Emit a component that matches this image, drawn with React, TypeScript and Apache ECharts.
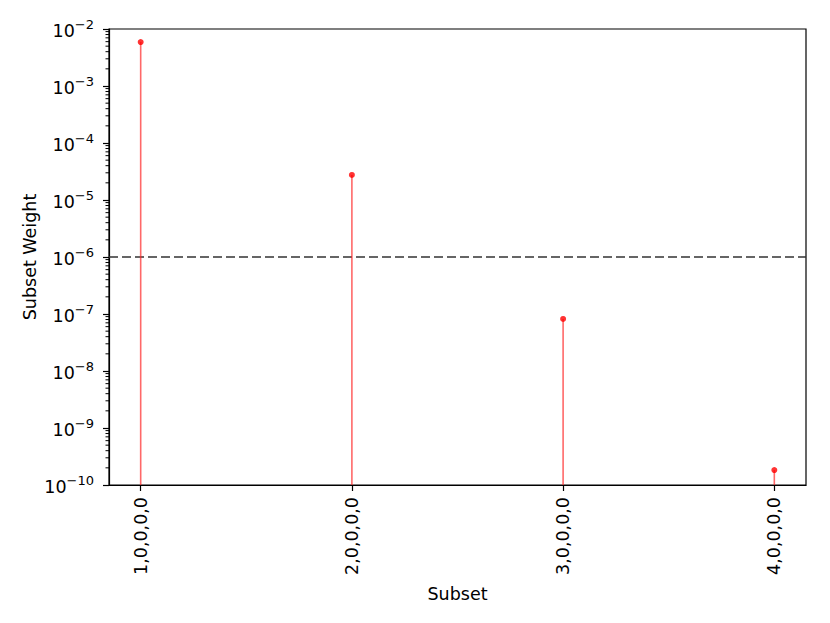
import React, { useEffect, useRef } from "react";
import * as echarts from "echarts";

const categories = ["1,0,0,0,0", "2,0,0,0,0", "3,0,0,0,0", "4,0,0,0,0"];
const weights = [5.9e-3, 2.75e-5, 8.2e-8, 1.83e-10];
const yMajorTicks = [1e-10, 1e-9, 1e-8, 1e-7, 1e-6, 1e-5, 1e-4, 1e-3, 1e-2];
const threshold = 1e-6;
const X_MIN = 0.85;
const X_MAX = 4.15;

const yMinorTicks: number[] = [];
for (let e = -10; e < -2; e++) {
  for (let k = 2; k <= 9; k++) yMinorTicks.push(k * Math.pow(10, e));
}

const FONT = "DejaVu Sans";

export default function App() {
  const ref = useRef<HTMLDivElement>(null);
  useEffect(() => {
    const chart = echarts.init(ref.current!, null, { renderer: "svg" });
    const xPos = categories.map((_, i) => i + 1);
    chart.setOption({
      animation: false,
      backgroundColor: "#ffffff",
      grid: {
        left: 109,
        right: 24,
        top: 29,
        bottom: 138,
        show: true,
        borderColor: "#000",
        borderWidth: 1.2,
        backgroundColor: "transparent",
      },
      xAxis: {
        type: "value",
        min: X_MIN,
        max: X_MAX,
        name: "Subset",
        nameLocation: "middle",
        nameGap: 100,
        nameMoveOverlap: false,
        nameTextStyle: { fontFamily: FONT, fontSize: 17.5, color: "#000" },
        axisLine: { show: true, lineStyle: { color: "#000", width: 1.2 } },
        axisTick: {
          show: true,
          length: 6,
          inside: false,
          lineStyle: { color: "#000", width: 1.2 },
          customValues: xPos,
        },
        axisLabel: {
          show: true,
          rotate: 90,
          margin: 12,
          fontFamily: FONT,
          fontSize: 17.5,
          color: "#000",
          customValues: xPos,
          formatter: (v: number) => categories[Math.round(v) - 1] ?? "",
        },
        splitLine: { show: false },
      },
      yAxis: {
        type: "log",
        logBase: 10,
        min: 1e-10,
        max: 1e-2,
        name: "Subset Weight",
        nameLocation: "middle",
        nameGap: 70,
        nameMoveOverlap: false,
        nameTextStyle: { fontFamily: FONT, fontSize: 17.5, color: "#000" },
        axisLine: { show: true, lineStyle: { color: "#000", width: 1.2 } },
        axisTick: {
          show: true,
          length: 6,
          lineStyle: { color: "#000", width: 1.2 },
          customValues: yMajorTicks,
        },
        axisLabel: {
          show: true,
          margin: 15,
          color: "#000",
          customValues: yMajorTicks,
          formatter: (v: number) => `{b|10}{s|−${Math.abs(Math.round(Math.log10(v)))}}`,
          rich: {
            b: { fontFamily: FONT, fontSize: 17.5, color: "#000", lineHeight: 22, verticalAlign: "bottom" },
            s: { fontFamily: FONT, fontSize: 13, color: "#000", lineHeight: 10, verticalAlign: "top" },
          },
        },
        splitLine: { show: false },
        minorTick: { show: false },
      },
      series: [
        {
          type: "custom",
          name: "minor",
          silent: true,
          clip: false,
          data: yMinorTicks.map((v) => [X_MIN, v]),
          renderItem: (params: any, api: any) => {
            const p = api.coord([api.value(0), api.value(1)]);
            return {
              type: "line",
              shape: { x1: p[0] - 3.5, y1: p[1], x2: p[0], y2: p[1] },
              style: { stroke: "#000", lineWidth: 1 },
            };
          },
        },
        {
          type: "line",
          name: "threshold",
          silent: true,
          symbol: "none",
          data: [
            [X_MIN, threshold],
            [X_MAX, threshold],
          ],
          lineStyle: { color: "#333", type: [9, 4], width: 1.3 },
          z: 3,
        },
        {
          type: "custom",
          name: "stems",
          silent: true,
          data: xPos.map((x, i) => [x, weights[i]]),
          renderItem: (params: any, api: any) => {
            const top = api.coord([api.value(0), api.value(1)]);
            const base = api.coord([api.value(0), 1e-10]);
            return {
              type: "line",
              shape: { x1: top[0], y1: top[1], x2: base[0], y2: base[1] },
              style: { stroke: "rgba(255,40,40,0.7)", lineWidth: 1.6 },
            };
          },
          z: 4,
        },
        {
          type: "scatter",
          name: "weights",
          symbol: "circle",
          symbolSize: 6,
          itemStyle: { color: "#ff0000" },
          data: xPos.map((x, i) => [x, weights[i]]),
          z: 5,
        },
      ],
    });
    return () => chart.dispose();
  }, []);
  return <div ref={ref} style={{ width: 830, height: 623, position: "absolute", left: 0, top: 0 }} />;
}
